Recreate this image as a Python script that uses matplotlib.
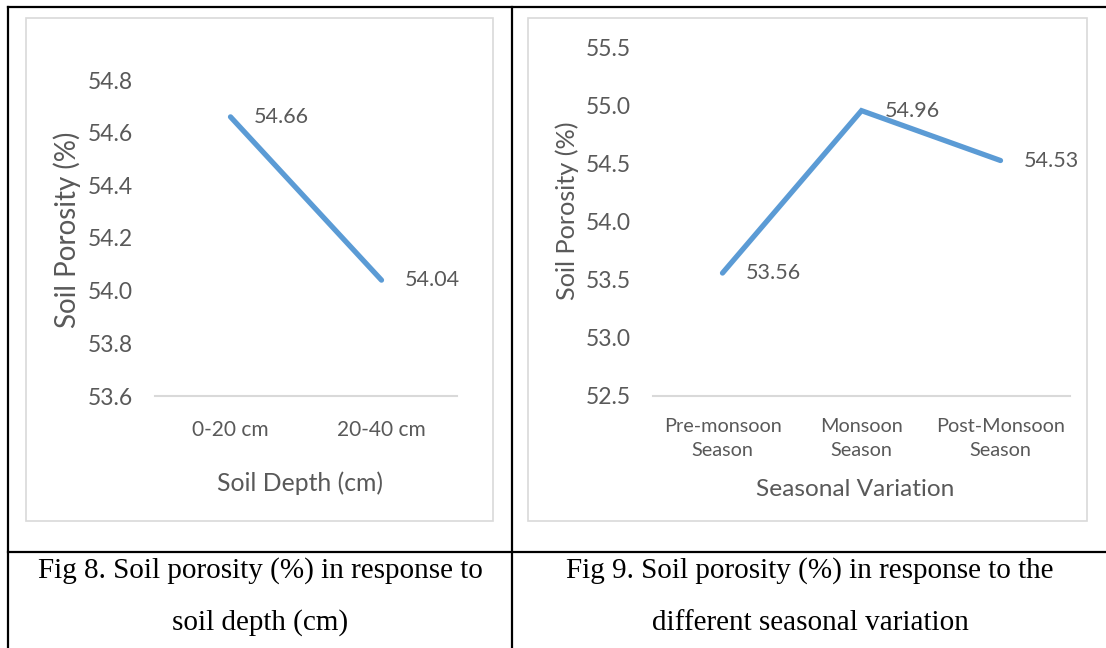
import matplotlib
matplotlib.use("Agg")
import matplotlib.pyplot as plt
from matplotlib.lines import Line2D

# Soil porosity by depth
depth_labels = ["0-20 cm", "20-40 cm"]
depth_porosity = [54.66, 54.04]
depth_ticks = [53.6, 53.8, 54.0, 54.2, 54.4, 54.6, 54.8]

# Soil porosity by season
season_labels = ["Pre-monsoon\nSeason", "Monsoon\nSeason", "Post-Monsoon\nSeason"]
season_porosity = [53.56, 54.96, 54.53]
season_ticks = [52.5, 53.0, 53.5, 54.0, 54.5, 55.0, 55.5]

captions_left = ["Fig 8. Soil porosity (%) in response to", "soil depth (cm)"]
captions_right = ["Fig 9. Soil porosity (%) in response to the", "different seasonal variation"]

W, H = 1106, 648
LINE = "#5B9BD5"
TEXT = "#595959"
GRID = "#D9D9D9"
SANS = ["Lato", "DejaVu Sans"]
SERIF = ["Liberation Serif", "DejaVu Serif"]

fig = plt.figure(figsize=(W / 100, H / 100), dpi=100)
fig.patch.set_facecolor("white")


def px_box(x0, y0, x1, y1):
    return [x0 / W, 1 - y1 / H, (x1 - x0) / W, (y1 - y0) / H]


def fx(x):
    return x / W


def fy(y):
    return 1 - y / H


# table rules
for seg in [((8, 1106), (7, 7)), ((8, 1106), (552, 552)),
            ((8, 8), (7, 648)), ((512, 512), (7, 648))]:
    fig.add_artist(Line2D([fx(v) for v in seg[0]], [fy(v) for v in seg[1]],
                          color="black", lw=1.6, transform=fig.transFigure))

# chart frames
for (x0, y0, x1, y1) in [(26, 18, 493, 521), (528, 18, 1087, 521)]:
    fig.add_artist(plt.Rectangle((fx(x0), fy(y1)), fx(x1) - fx(x0), fy(y0) - fy(y1),
                                 fill=False, edgecolor=GRID, lw=1.2,
                                 transform=fig.transFigure))


def style(ax, cats, ticks, ylim, pad_x, fs_x, ls):
    for s in ["top", "right", "left"]:
        ax.spines[s].set_visible(False)
    ax.spines["bottom"].set_color(GRID)
    ax.spines["bottom"].set_linewidth(1.5)
    ax.set_xticks(range(len(cats)))
    ax.set_xticklabels(cats, fontfamily=SANS, fontsize=fs_x, color=TEXT, linespacing=ls)
    ax.set_yticks(ticks)
    ax.set_yticklabels([f"{t:.1f}" for t in ticks], fontfamily=SANS, fontsize=16.5,
                       color=TEXT)
    ax.tick_params(axis="both", length=0)
    ax.tick_params(axis="y", pad=16)
    ax.tick_params(axis="x", pad=pad_x)
    ax.set_xlim(-0.5, len(cats) - 0.5)
    ax.set_ylim(*ylim)
    ax.patch.set_alpha(0)


def draw_series(ax, vals):
    xs = range(len(vals))
    ax.plot(xs, vals, color=LINE, lw=3.8, solid_capstyle="round",
            solid_joinstyle="miter", clip_on=False)
    for x, v in zip(xs, vals):
        ax.annotate(f"{v:.2f}", (x, v), xytext=(17, 0), textcoords="offset points",
                    ha="left", va="center", fontfamily=SANS, fontsize=15.5, color=TEXT)


# left chart
ax1 = fig.add_axes(px_box(155, 80, 457, 396))
style(ax1, depth_labels, depth_ticks, (53.6, 54.8), 17, 15, 1.2)
draw_series(ax1, depth_porosity)
fig.text(fx(300), fy(483), "Soil Depth (cm)", ha="center", va="center",
         fontfamily=SANS, fontsize=17.8, color=TEXT)
fig.text(fx(67), fy(230), "Soil Porosity (%)", ha="center", va="center",
         rotation=90, fontfamily=SANS, fontsize=20, color=TEXT)

# right chart
ax2 = fig.add_axes(px_box(653, 48, 1070, 396))
style(ax2, season_labels, season_ticks, (52.5, 55.5), 16, 14.3, 1.5)
draw_series(ax2, season_porosity)
fig.text(fx(855), fy(489), "Seasonal Variation", ha="center", va="center",
         fontfamily=SANS, fontsize=17.6, color=TEXT)
fig.text(fx(567), fy(211), "Soil Porosity (%)", ha="center", va="center",
         rotation=90, fontfamily=SANS, fontsize=18.2, color=TEXT)

# captions
for cx, lines in [(260, captions_left), (810, captions_right)]:
    for cy, line in zip([571, 623], lines):
        fig.text(fx(cx), fy(cy), line, ha="center", va="center",
                 fontfamily=SERIF, fontsize=21, color="black")

fig.savefig("out.png", dpi=100, facecolor="white")
